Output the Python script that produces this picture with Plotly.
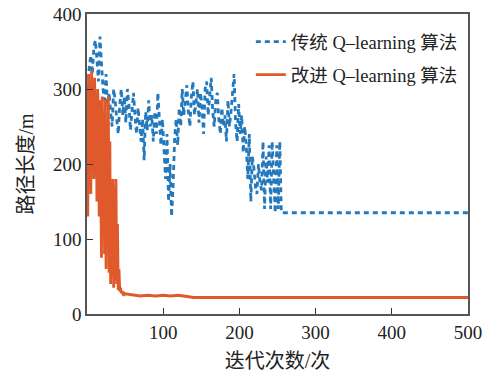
import plotly.graph_objects as go

# Traditional Q-learning (dashed blue)
trad_x = list(range(1, 256, 2)) + [500]
trad_y = [
    300, 330, 345, 320, 355,
    365, 340, 310, 370, 330,
    300, 285, 320, 275, 295,
    270, 250, 300, 285, 260,
    240, 280, 300, 265, 290,
    255, 300, 280, 245, 270,
    295, 265, 240, 275, 255,
    230, 260, 205, 270, 245,
    285, 250, 265, 230, 270,
    240, 295, 255, 225, 260,
    210, 180, 240, 150, 200,
    130, 170, 235, 260, 225,
    275, 250, 300, 265, 285,
    305, 270, 250, 290, 310,
    265, 285, 300, 255, 295,
    275, 240, 300, 310, 265,
    290, 315, 270, 250, 285,
    295, 260, 240, 275, 250,
    265, 230, 285, 250, 270,
    300, 320, 255, 230, 280,
    240, 265, 215, 250, 225,
    180, 240, 150, 210, 195,
    170, 160, 200, 175, 165,
    230, 140, 210, 175, 225,
    140, 230, 185, 135, 225,
    140, 230, 135,
    135,
]

# Improved Q-learning (solid orange)
impr_x = list(range(1, 51)) + [55, 60, 70, 80, 90, 100, 110, 120, 130, 140, 500]
impr_y = [
    130, 320, 200, 310, 160, 325, 240, 300, 180, 315,
    220, 295, 150, 300, 260, 130, 285, 200, 75, 290,
    120, 270, 80, 285, 60, 250, 100, 290, 55, 230,
    40, 160, 50, 180, 35, 170, 45, 180, 40, 120,
    32, 60, 30, 35, 28, 30, 27, 28, 26, 27,
    26, 25, 24, 25, 24, 25, 24, 25, 24, 22, 22,
]

x_ticks = [100, 200, 300, 400, 500]
y_ticks = [0, 100, 200, 300, 400]

font_family = "Liberation Serif, Noto Sans CJK SC, serif"

fig = go.Figure()
fig.add_trace(go.Scatter(
    x=trad_x, y=trad_y, mode="lines", name="传统 Q–learning 算法",
    line=dict(color="#2479bd", width=2.8, dash="5px,4px"),
    legendgroup="a",
))
fig.add_trace(go.Scatter(
    x=impr_x, y=impr_y, mode="lines", name="改进 Q–learning 算法",
    line=dict(color="#e0592a", width=2.8),
    legendgroup="b",
))

axis_common = dict(
    showline=True, linecolor="#555555", linewidth=1.5, mirror=True,
    ticks="inside", ticklen=6, tickcolor="#333333", showgrid=False, zeroline=False,
    tickfont=dict(size=19, color="#222222", family=font_family),
    automargin=False,
)
fig.update_xaxes(range=[0, 500], tickvals=x_ticks,
                 title=dict(text="迭代次数/次", font=dict(size=20, color="#222222", family=font_family), standoff=12),
                 **axis_common)
fig.update_yaxes(range=[0, 400], tickvals=y_ticks,
                 title=dict(text="路径长度/m", font=dict(size=20, color="#222222", family=font_family), standoff=14),
                 **axis_common)

fig.update_layout(
    width=483, height=378,
    margin=dict(l=87, r=15, t=14, b=64),
    paper_bgcolor="white", plot_bgcolor="white",
    font=dict(family=font_family, color="#222222"),
    legend=dict(x=0.43, y=0.97, xanchor="left", yanchor="top",
                bgcolor="rgba(0,0,0,0)", font=dict(size=18.5, family=font_family),
                tracegroupgap=6, itemwidth=30),
)

fig.write_html("out.html", config={"displayModeBar": False},
               post_script="document.body.style.margin='0';")
